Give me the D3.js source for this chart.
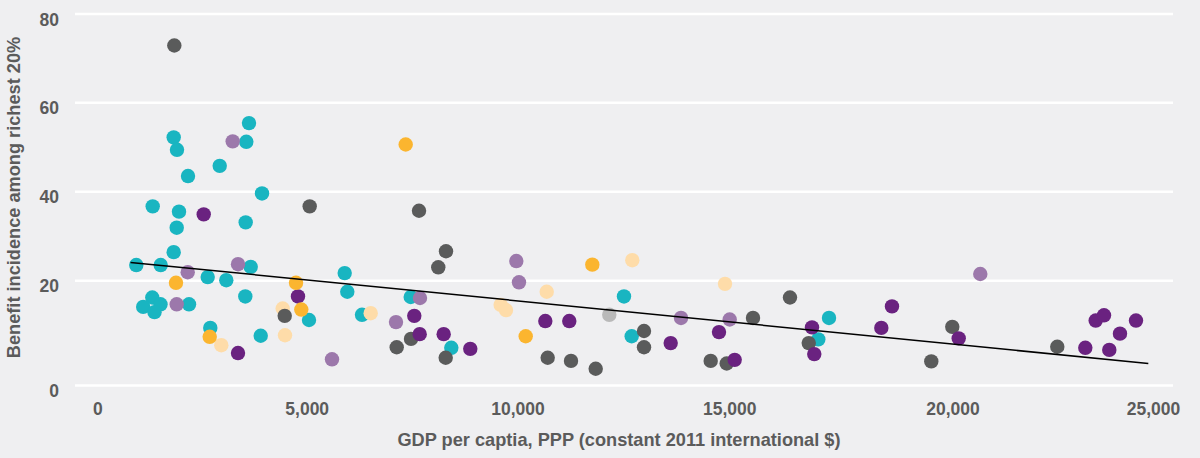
<!DOCTYPE html>
<html>
<head>
<meta charset="utf-8">
<script src="https://cdn.jsdelivr.net/npm/d3@7"></script>
<style>
  html, body { margin: 0; padding: 0; background: #efeff1; }
  svg { display: block; }
  text { font-family: "Liberation Sans", Arial, sans-serif; font-weight: bold; fill: #5b5b5b; }
</style>
</head>
<body>
<svg id="chart" width="1200" height="458"></svg>
<script>
// Axis ticks
const xTicks = [0, 5000, 10000, 15000, 20000, 25000];
const yTicks = [0, 20, 40, 60, 80];

// Country points: GDP per capita (PPP, constant 2011 $) and benefit incidence among richest 20%, grouped by colour
const tealGdp = [3622, 1824, 3558, 1903, 2923, 2166, 3933, 1323, 1951, 3543, 1896, 1824, 931, 1514, 3663, 2636, 3080, 5901, 5963, 3534, 1313, 1096, 1509, 1366, 2190, 6312, 5055, 2698, 3902, 7467, 12515, 8430, 12697, 17235, 16995];
const tealShare = [55.3, 52.1, 51.1, 49.3, 45.7, 43.4, 39.5, 36.6, 35.4, 33.0, 31.8, 26.3, 23.4, 23.4, 23.0, 20.7, 20.0, 21.6, 17.8, 16.9, 16.7, 14.9, 15.4, 13.9, 15.4, 13.4, 12.4, 10.9, 9.4, 16.8, 16.9, 7.1, 9.3, 12.8, 8.7];

const peachGdp = [4427, 4482, 2961, 6518, 9601, 9727, 10690, 12711, 14901];
const peachShare = [14.6, 9.5, 7.6, 13.7, 15.3, 14.3, 17.8, 24.5, 19.3];

const grayGdp = [1839, 5071, 4475, 7135, 7664, 8304, 8121, 16361, 15533, 7474, 12988, 12988, 8297, 10713, 11264, 11847, 14563, 14941, 16781, 19995, 19525, 22613];
const grayShare = [72.8, 36.6, 13.2, 7.2, 35.6, 26.5, 22.9, 16.7, 12.8, 8.8, 10.3, 7.2, 5.2, 5.2, 4.6, 3.1, 4.6, 4.1, 8.0, 11.1, 4.5, 7.3];

const purpleGdp = [2541, 4792, 3360, 7552, 7680, 8249, 8880, 10657, 11223, 13618, 14759, 15123, 18645, 16854, 18406, 16905, 20155, 23312, 23571, 23778, 24576, 24177, 23910];
const purpleShare = [34.8, 16.9, 6.1, 13.2, 9.7, 9.7, 6.9, 12.2, 12.2, 8.0, 10.1, 4.8, 15.0, 11.0, 10.9, 5.9, 8.9, 7.1, 12.3, 13.3, 12.3, 9.8, 6.7];

const lilacGdp = [3233, 2159, 3360, 1896, 5600, 7118, 7687, 9972, 10035, 13862, 15011, 20693];
const lilacShare = [51.2, 21.8, 23.6, 15.4, 4.9, 12.0, 16.6, 24.3, 19.6, 12.8, 12.5, 21.4];

const orangeGdp = [1879, 4745, 4871, 2684, 7348, 10194, 11767];
const orangeShare = [19.5, 19.5, 14.4, 9.2, 50.5, 9.3, 23.5];

const silverGdp = [12168];
const silverShare = [13.4];

// Linear trend through all countries
const trendGdp = [793, 24883];
const trendShare = [24.0, 4.1];

const groups = [
  { color: "#19b5c1", gdp: tealGdp, share: tealShare },
  { color: "#fedca9", gdp: peachGdp, share: peachShare },
  { color: "#5a5b5b", gdp: grayGdp, share: grayShare },
  { color: "#6a2280", gdp: purpleGdp, share: purpleShare },
  { color: "#9c78ab", gdp: lilacGdp, share: lilacShare },
  { color: "#fbb52f", gdp: orangeGdp, share: orangeShare },
  { color: "#b9b9b9", gdp: silverGdp, share: silverShare }
];

const svg = d3.select("#chart");
const W = 1200, H = 458;
svg.append("rect").attr("width", W).attr("height", H).attr("fill", "#efeff1");

const gridLeft = 75, gridRight = 1173;

// Tick positions on both axes are not evenly spaced, so the scales are piecewise linear
const x = d3.scaleLinear()
  .domain(xTicks)
  .range([97.3, 306.7, 517.5, 729.2, 952.5, 1153]);
const y = d3.scaleLinear()
  .domain(yTicks)
  .range([385, 280.2, 191.2, 102.2, 13.6]);

// Y axis with white gridlines
const yAxis = svg.append("g")
  .attr("transform", `translate(${gridLeft},0)`)
  .call(d3.axisLeft(y).tickValues(yTicks).tickSize(-(gridRight - gridLeft)).tickPadding(16).tickFormat(d3.format("d")));
yAxis.select(".domain").remove();
yAxis.selectAll(".tick line").attr("stroke", "#ffffff").attr("stroke-width", 2.5);
yAxis.selectAll(".tick text")
  .attr("dy", null)
  .attr("y", 5.5)
  .attr("dominant-baseline", "central")
  .style("font-size", "17.5px");

// X axis labels
const xAxis = svg.append("g")
  .attr("transform", `translate(0,${y(0)})`)
  .call(d3.axisBottom(x).tickValues(xTicks).tickSize(0).tickFormat(d3.format(",")));
xAxis.select(".domain").remove();
xAxis.selectAll(".tick text")
  .attr("dy", null)
  .attr("y", 23.5)
  .attr("dominant-baseline", "central")
  .style("font-size", "17.5px");

// Points
groups.forEach(g => {
  svg.append("g")
    .selectAll("circle")
    .data(d3.zip(g.gdp, g.share))
    .join("circle")
    .attr("cx", d => x(d[0]))
    .attr("cy", d => y(d[1]))
    .attr("r", 7.2)
    .attr("fill", g.color);
});

// Trend line
svg.append("path")
  .datum(d3.zip(trendGdp, trendShare))
  .attr("d", d3.line().x(d => x(d[0])).y(d => y(d[1])))
  .attr("fill", "none")
  .attr("stroke", "#000000")
  .attr("stroke-width", 1.5);

// Axis titles
svg.append("text")
  .attr("x", 619)
  .attr("y", 440)
  .attr("text-anchor", "middle")
  .attr("dominant-baseline", "central")
  .style("font-size", "18.2px")
  .text("GDP per captia, PPP (constant 2011 international $)");

svg.append("text")
  .attr("transform", "translate(14,197.5) rotate(-90)")
  .attr("text-anchor", "middle")
  .attr("dominant-baseline", "central")
  .style("font-size", "18.2px")
  .text("Benefit incidence among richest 20%");
</script>
</body>
</html>
